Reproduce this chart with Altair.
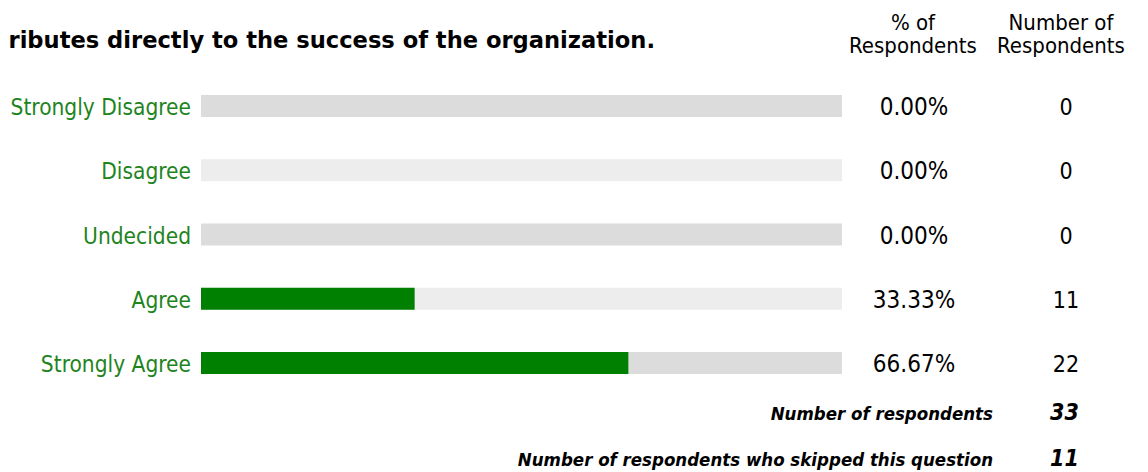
import altair as alt
import pandas as pd

categories = ["Strongly Disagree", "Disagree", "Undecided", "Agree", "Strongly Agree"]
percents = [0.0, 0.0, 0.0, 33.33, 66.67]
counts = [0, 0, 0, 11, 22]
shade = [0, 1, 0, 1, 0]

title_text = "ributes directly to the success of the organization."
header_pct = ["% of", "Respondents"]
header_num = ["Number of", "Respondents"]
footer_labels = ["Number of respondents", "Number of respondents who skipped this question"]
footer_values = ["33", "11"]

FONT = "DejaVu Sans Condensed, DejaVu Sans, sans-serif"
FONT_WIDE = "DejaVu Sans, sans-serif"

df = pd.DataFrame({"cat": categories, "pct": percents, "count": counts, "shade": shade})

y_enc = alt.Y("cat:N", sort=categories,
              scale=alt.Scale(type="point", domain=categories, range=[98, 355], padding=0), axis=None)
x_scale = alt.Scale(domain=[0, 100], range=[193, 834])

base = alt.Chart(df)

bg = base.mark_rule(strokeWidth=22, strokeCap="butt").encode(
    x=alt.X("zero:Q", scale=x_scale, axis=None),
    x2="full:Q",
    y=y_enc,
    color=alt.Color("shade:N", scale=alt.Scale(domain=[0, 1], range=["#DCDCDC", "#EDEDED"]), legend=None),
).transform_calculate(zero="0", full="100")

fg = base.transform_filter("datum.pct > 0").mark_rule(strokeWidth=22, strokeCap="butt", color="#008000").encode(
    x=alt.X("zero:Q", scale=x_scale, axis=None),
    x2="pct:Q",
    y=y_enc,
).transform_calculate(zero="0")

labels = base.mark_text(align="right", baseline="alphabetic", dy=9, font=FONT,
                        fontSize=22.5, color="#1E841E").encode(
    x=alt.value(183), y=y_enc, text="cat:N")

pct_text = base.transform_calculate(
    lab="format(datum.pct, '.2f') + '%'"
).mark_text(align="center", baseline="alphabetic", dy=9, font=FONT, fontSize=24, color="#000000").encode(
    x=alt.value(906), y=y_enc, text="lab:N")

cnt_text = base.mark_text(align="center", baseline="alphabetic", dy=9, font=FONT, fontSize=23, color="#000000").encode(
    x=alt.value(1058), y=y_enc, text="count:Q")

one = pd.DataFrame({"a": [1]})
title = alt.Chart(one).mark_text(text=title_text, align="right", baseline="alphabetic",
                                 font=FONT_WIDE, fontSize=22.6, fontWeight="bold", color="#000000").encode(
    x=alt.value(647), y=alt.value(40))
h1 = alt.Chart(one).mark_text(text=header_pct, align="center", baseline="alphabetic", lineHeight=23,
                              font=FONT, fontSize=22, color="#000000").encode(
    x=alt.value(905), y=alt.value(22))
h2 = alt.Chart(one).mark_text(text=header_num, align="center", baseline="alphabetic", lineHeight=23,
                              font=FONT, fontSize=22, color="#000000").encode(
    x=alt.value(1053), y=alt.value(22))

fdf = pd.DataFrame({"label": footer_labels, "value": footer_values, "row": [0, 1]})
fy = alt.Y("row:O", scale=alt.Scale(type="point", domain=[0, 1], range=[412, 458], padding=0), axis=None)
flab = alt.Chart(fdf).mark_text(align="right", baseline="alphabetic", font=FONT, fontSize=18.5,
                                fontWeight="bold", fontStyle="italic", color="#000000").encode(
    x=alt.value(985), y=fy, text="label:N")
fval = alt.Chart(fdf).mark_text(align="left", baseline="alphabetic", font=FONT, fontSize=23,
                                fontWeight="bold", fontStyle="italic", color="#000000").encode(
    x=alt.value(1042), y=fy, text="value:N")

chart = alt.layer(bg, fg, labels, pct_text, cnt_text, title, h1, h2, flab, fval).resolve_scale(
    color="independent", y="independent"
).properties(
    width=1132, height=464, padding=0, autosize=alt.AutoSizeParams(type="none")
).configure_view(stroke=None)

chart.save("out.html", embed_options={"renderer": "svg", "actions": False})
